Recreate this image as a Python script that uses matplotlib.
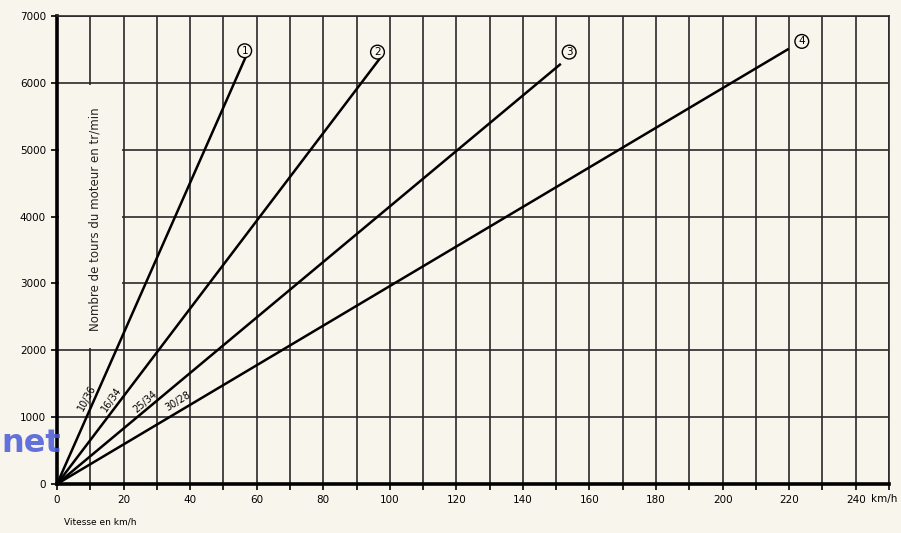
import matplotlib
matplotlib.use("Agg")
import matplotlib.pyplot as plt
from matplotlib.patches import Rectangle

# Data
gear_ids = ["1", "2", "3", "4"]
gear_ratios = ["10/36", "16/34", "25/34", "30/28"]
end_speed = [56.9, 97.4, 151.4, 219.9]        # km/h at end of each line
end_rpm = [6410, 6390, 6285, 6510]            # tr/min at end of each line
circle_pos = [(56.4, 6480), (96.3, 6460), (153.9, 6460), (223.8, 6620)]
ratio_label_pos = [(8.9, 1290), (16.4, 1260), (26.4, 1235), (36.4, 1235)]
ratio_label_rot = [62, 55, 41, 32]
x_ticks = list(range(0, 241, 20))
x_tick_labels = [str(v) for v in x_ticks]
y_ticks = list(range(0, 7001, 1000))

bg = "#f8f5ec"
fig = plt.figure(figsize=(9.01, 5.33), dpi=100, facecolor=bg)
ax = fig.add_axes([57/901, 1-484/533, (889-57)/901, (484-16)/533])
ax.set_facecolor(bg)
ax.set_xlim(0, 250)
ax.set_ylim(0, 7000)

# grid
for xv in range(10, 251, 10):
    ax.axvline(xv, color="#2a2a2a", lw=1.2, zorder=1)
for yv in y_ticks[1:]:
    ax.axhline(yv, color="#2a2a2a", lw=1.2, zorder=1)

# blank area behind the axis title
ax.add_patch(Rectangle((0.5, 2030), 19.0, 3940, facecolor=bg, edgecolor="none", zorder=1.5))

# gear lines
for sx, ry in zip(end_speed, end_rpm):
    ax.plot([0, sx], [0, ry], color="black", lw=1.8, zorder=3, solid_capstyle="butt")

for gid, (cx, cy) in zip(gear_ids, circle_pos):
    ax.text(cx, cy, gid, ha="center", va="center", fontsize=7.5, zorder=4,
            bbox=dict(boxstyle="circle,pad=0.18", fc=bg, ec="black", lw=1.0))

for lab, (lx, ly), rot in zip(gear_ratios, ratio_label_pos, ratio_label_rot):
    ax.text(lx, ly, lab, ha="center", va="center", rotation=rot, fontsize=7,
            zorder=4, rotation_mode="anchor")

ax.text(11.4, 3960, "Nombre de tours du moteur en tr/min", rotation=90,
        ha="center", va="center", fontsize=8.5, zorder=4, color="#222222")

# spines and ticks
for s in ["left", "bottom"]:
    ax.spines[s].set_linewidth(2.6)
for s in ["top", "right"]:
    ax.spines[s].set_linewidth(1.2)
    ax.spines[s].set_color("#2a2a2a")
ax.set_xticks(x_ticks)
ax.set_xticklabels(x_tick_labels, fontsize=7.5)
ax.set_xticks(list(range(10, 251, 20)), minor=True)
ax.set_yticks(y_ticks)
ax.set_yticklabels([str(v) for v in y_ticks], fontsize=7.5)
ax.tick_params(axis="both", direction="out", length=4, width=1.2, pad=4)
ax.tick_params(axis="x", which="minor", length=4, width=1.2)

# unit after the last tick label
fig.text(871/901, 1-499/533, "km/h", fontsize=7.5, ha="left", va="center")

fig.text(100/901, 1-522/533, "Vitesse en km/h", fontsize=6.5, ha="center", va="center")

# watermark fragment
fig.text(1/901, 1-443/533, "net", ha="left", va="center", fontsize=23,
         fontweight="bold", color="#4a5ad8", alpha=0.85)

fig.savefig("out.png", dpi=100, facecolor=bg)
